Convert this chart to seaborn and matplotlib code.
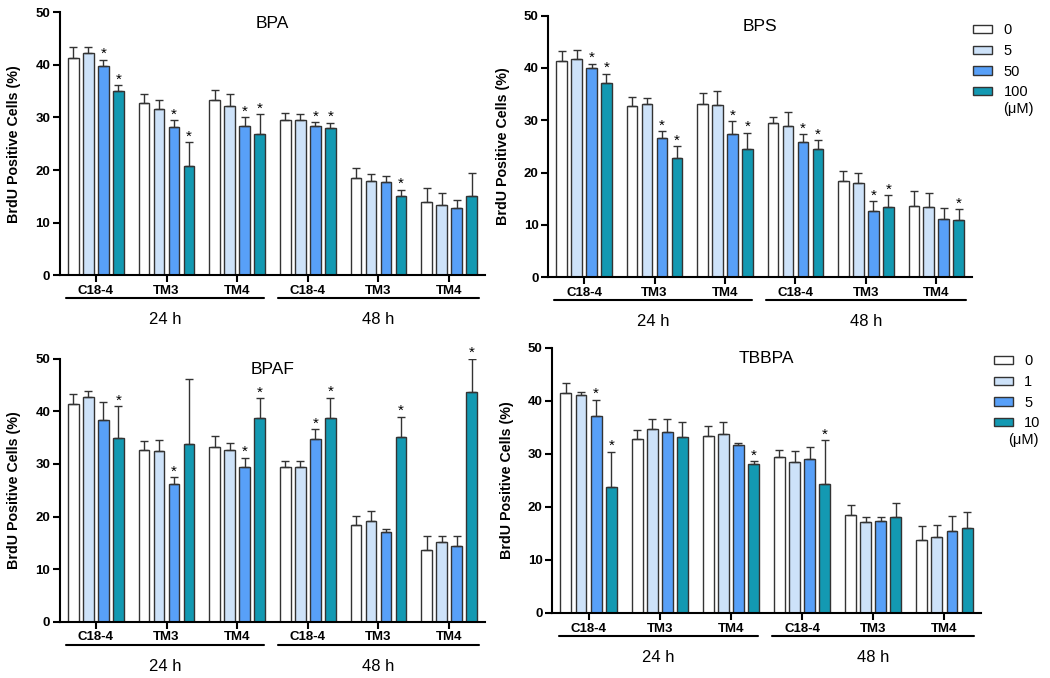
# ── Imports ──────────────────────────────────────────────────────────
import numpy as np
import pandas as pd
import matplotlib
matplotlib.use("Agg")
import matplotlib.pyplot as plt
import matplotlib.transforms as mtransforms
import seaborn as sns

# ── Data (mean, upper SD, significance) ──────────────────────────────
# rows = 24 h C18-4, TM3, TM4, then 48 h C18-4, TM3, TM4
# cols = dose levels (low → high)
group_labels = ["C18-4", "TM3", "TM4", "C18-4", "TM3", "TM4"]
time_labels = ["24 h", "48 h"]
doses_bisphenol = ["0", "5", "50", "100"]
doses_tbbpa = ["0", "1", "5", "10"]

bpa_mean = [[41.3, 42.3, 39.7, 35.0], [32.7, 31.6, 28.1, 20.8], [33.3, 32.2, 28.3, 26.8],
            [29.5, 29.5, 28.4, 27.9], [18.5, 18.0, 17.7, 15.1], [13.9, 13.4, 12.8, 15.0]]
bpa_sd = [[2.0, 1.1, 1.3, 1.1], [1.7, 1.7, 1.4, 4.5], [1.9, 2.2, 1.8, 3.8],
          [1.3, 1.1, 0.7, 1.1], [1.9, 1.2, 1.2, 1.2], [2.6, 2.2, 1.6, 4.5]]
bpa_star = [[0, 0, 1, 1], [0, 0, 1, 1], [0, 0, 1, 1],
            [0, 0, 1, 1], [0, 0, 0, 1], [0, 0, 0, 0]]

bps_mean = [[41.4, 41.7, 39.9, 37.1], [32.8, 33.1, 26.6, 22.7], [33.2, 33.0, 27.4, 24.5],
            [29.5, 28.9, 25.8, 24.6], [18.4, 18.1, 12.7, 13.5], [13.7, 13.4, 11.1, 11.0]]
bps_sd = [[1.9, 1.8, 0.9, 1.8], [1.7, 1.2, 1.3, 2.3], [2.1, 2.5, 2.4, 3.1],
          [1.2, 2.7, 1.6, 1.6], [1.9, 1.9, 1.9, 2.2], [2.7, 2.7, 2.1, 2.0]]
bps_star = [[0, 0, 1, 1], [0, 0, 1, 1], [0, 0, 1, 1],
            [0, 0, 1, 1], [0, 0, 1, 1], [0, 0, 0, 1]]

bpaf_mean = [[41.3, 42.7, 38.4, 34.9], [32.7, 32.5, 26.1, 33.7], [33.3, 32.7, 29.4, 38.7],
             [29.4, 29.5, 34.8, 38.8], [18.3, 19.2, 17.0, 35.2], [13.7, 15.1, 14.4, 43.6]]
bpaf_sd = [[2.0, 1.2, 3.4, 6.1], [1.7, 2.0, 1.4, 12.4], [2.0, 1.3, 1.8, 3.8],
           [1.2, 1.1, 1.8, 3.8], [1.8, 1.8, 0.6, 3.8], [2.6, 1.2, 1.9, 6.4]]
bpaf_star = [[0, 0, 0, 1], [0, 0, 1, 0], [0, 0, 1, 1],
             [0, 0, 1, 1], [0, 0, 0, 1], [0, 0, 0, 1]]

tbbpa_mean = [[41.4, 41.1, 37.2, 23.8], [32.8, 34.7, 34.2, 33.2], [33.3, 33.7, 31.6, 28.1],
              [29.5, 28.5, 29.0, 24.4], [18.4, 17.2, 17.3, 18.0], [13.8, 14.3, 15.5, 16.0]]
tbbpa_sd = [[2.0, 0.6, 3.0, 6.6], [1.7, 1.9, 2.4, 2.8], [2.0, 2.4, 0.4, 0.5],
            [1.2, 2.1, 2.3, 8.2], [1.9, 0.9, 0.8, 2.8], [2.6, 2.3, 2.7, 3.1]]
tbbpa_star = [[0, 0, 1, 1], [0, 0, 0, 0], [0, 0, 0, 1],
              [0, 0, 0, 1], [0, 0, 0, 0], [0, 0, 0, 0]]

# ── Style ────────────────────────────────────────────────────────────
sns.set_style("ticks")
plt.rcParams["font.family"] = ["Liberation Sans", "DejaVu Sans"]
plt.rcParams.update({
    "axes.linewidth": 1.5,
    "axes.edgecolor": "black",
    "axes.labelcolor": "black",
    "text.color": "black",
    "xtick.color": "black",
    "ytick.color": "black",
})

bar_colors = ["#FFFFFF", "#CDE2F9", "#58A0F8", "#1399B2"]
edge = "#333333"


def to_frame(mean, doses):
    rows = []
    for g, m_row in enumerate(mean):
        for d, m in enumerate(m_row):
            rows.append({"slot": str(g), "dose": doses[d], "value": m})
    return pd.DataFrame(rows)


def draw_panel(ax, title, mean, sd, star, doses, legend_at=None, unit_at=None):
    df = to_frame(mean, doses)
    sns.barplot(data=df, x="slot", y="value", hue="dose",
                order=[str(i) for i in range(6)], hue_order=doses,
                palette=bar_colors, saturation=1, width=0.85, gap=0.28,
                edgecolor=edge, linewidth=1.0, errorbar=None,
                legend=legend_at is not None, ax=ax)

    # upward-only SD bars + significance stars
    bar_containers = list(ax.containers)
    for d, cont in enumerate(bar_containers):
        xs = np.array([b.get_x() + b.get_width() / 2 for b in cont])
        hs = np.array([b.get_height() for b in cont])
        errs = np.array([row[d] for row in sd])
        ax.errorbar(xs, hs, yerr=[np.zeros_like(errs), errs], fmt="none",
                    ecolor=edge, elinewidth=1.0, capsize=3, capthick=1.0,
                    zorder=1)
        for g in range(len(xs)):
            if star[g][d]:
                ax.text(xs[g], hs[g] + errs[g] + 0.3, "*", ha="center",
                        va="baseline", fontsize=11, clip_on=False)

    ax.set_xlim(-0.51, 5.51)
    ax.set_ylim(0, 50)
    ax.set_yticks(range(0, 51, 10))
    ax.set_xticks(range(6))
    ax.set_xticklabels(group_labels, fontweight="bold", fontsize=9.5)
    for lab in ax.get_yticklabels():
        lab.set_fontweight("bold")
        lab.set_fontsize(9.5)
    ax.tick_params(direction="out", length=5, width=1.5, pad=2)
    ax.set_xlabel("")
    ax.set_ylabel("BrdU Positive Cells (%)", fontweight="bold", fontsize=10.3,
                  labelpad=10)
    sns.despine(ax=ax)
    ax.text(0.5, 0.958, title, transform=ax.transAxes, ha="center",
            va="center", fontsize=12.5)

    # time brackets under the groups
    trans = mtransforms.blended_transform_factory(ax.transData, ax.transAxes)
    for (x0, x1), lab in zip([(-0.42, 2.38), (2.58, 5.42)], time_labels):
        ax.plot([x0, x1], [-0.087, -0.087], color="black", lw=1.5,
                transform=trans, clip_on=False)
        ax.text((x0 + x1) / 2, -0.17, lab, transform=trans, ha="center",
                va="center", fontsize=12)

    if legend_at is not None:
        sns.move_legend(ax, "upper left", bbox_to_anchor=legend_at,
                        frameon=False, title=None, fontsize=10.5,
                        handlelength=1.3, handleheight=0.5,
                        labelspacing=0.45, handletextpad=0.8,
                        borderaxespad=0, borderpad=0)
        for h in ax.get_legend().get_patches():
            h.set_edgecolor(edge)
            h.set_linewidth(1.0)
        ax.text(unit_at[0], unit_at[1], "(μM)", transform=ax.transAxes,
                ha="left", va="center", fontsize=10.5)


fig = plt.figure(figsize=(10.5, 6.78), dpi=100)
ax1 = fig.add_axes([0.057, 0.594, 0.405, 0.388])
ax2 = fig.add_axes([0.522, 0.591, 0.404, 0.386])
ax3 = fig.add_axes([0.057, 0.083, 0.405, 0.388])
ax4 = fig.add_axes([0.526, 0.096, 0.408, 0.391])

draw_panel(ax1, "BPA", bpa_mean, bpa_sd, bpa_star, doses_bisphenol)
draw_panel(ax2, "BPS", bps_mean, bps_sd, bps_star, doses_bisphenol,
           legend_at=(1.002, 0.97), unit_at=(1.073, 0.645))
draw_panel(ax3, "BPAF", bpaf_mean, bpaf_sd, bpaf_star, doses_bisphenol)
draw_panel(ax4, "TBBPA", tbbpa_mean, tbbpa_sd, tbbpa_star, doses_tbbpa,
           legend_at=(1.03, 0.975), unit_at=(1.063, 0.653))

fig.savefig("out.png", dpi=100)
